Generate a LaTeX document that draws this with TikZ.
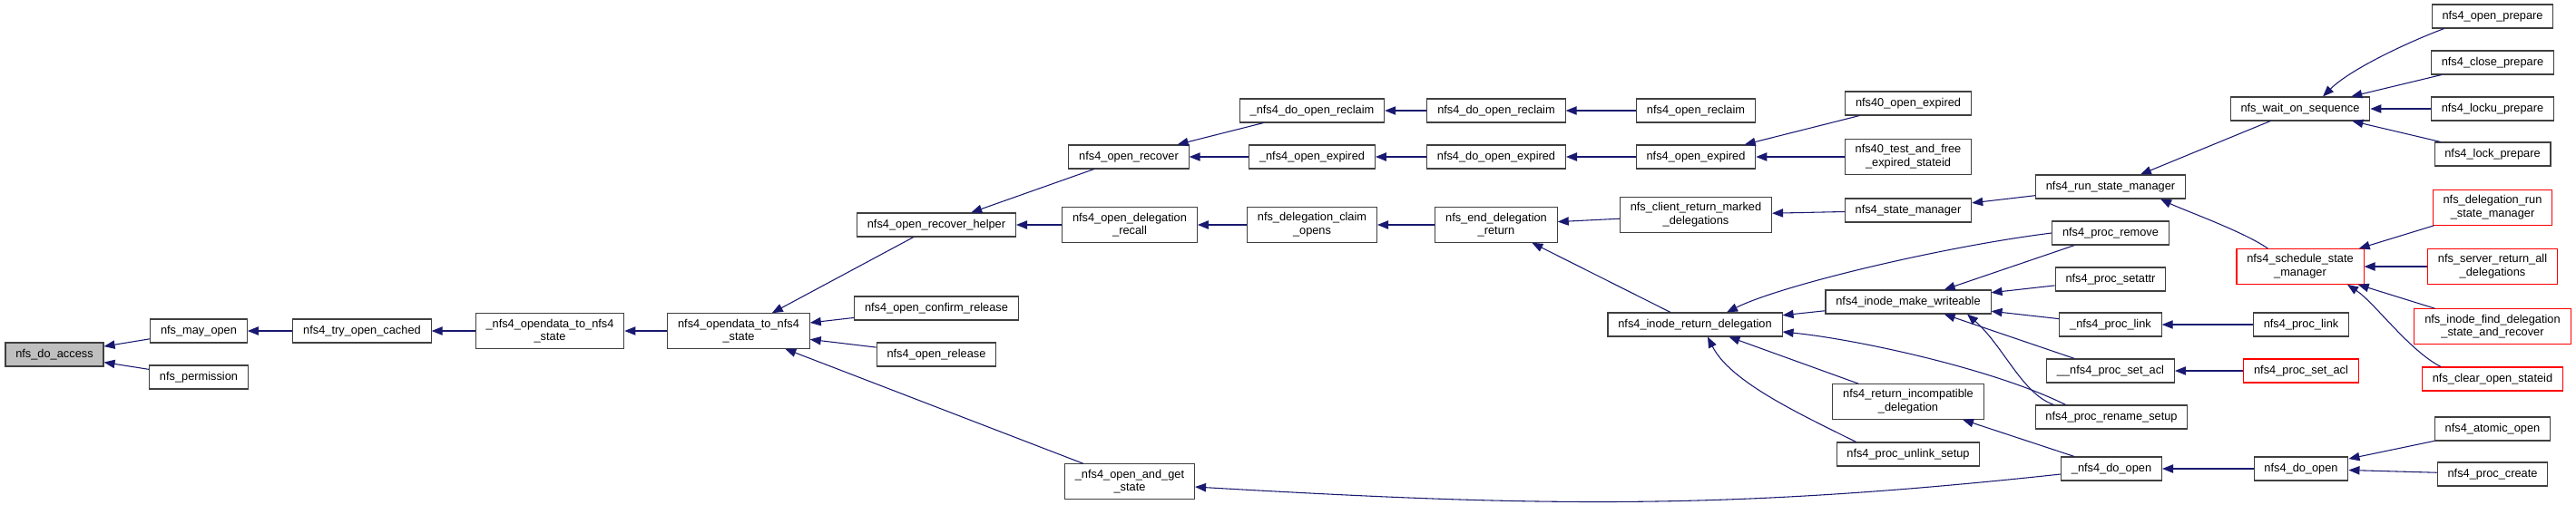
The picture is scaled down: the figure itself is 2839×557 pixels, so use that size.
\documentclass[tikz,border=0pt]{standalone}
\usepackage{fontspec}
\setmainfont{Liberation Sans}
\usepackage{xcolor}
\usepackage{tikz}
\usetikzlibrary{arrows.meta, calc}
\definecolor{midnight}{rgb}{0.098,0.098,0.439}
\definecolor{focusgrey}{rgb}{0.75,0.75,0.75}

\begin{document}
\begin{tikzpicture}[x=0.75pt, y=-0.75pt,
    fn/.style={rectangle, draw=black!75, fill=white, line width=0.8pt, inner xsep=8.5pt, inner ysep=4.5pt, minimum height=19.5pt, align=center, font=\fontsize{9.6}{11}\selectfont},
    focus/.style={fn, fill=focusgrey},
    redfn/.style={fn, draw=red},
    call/.style={draw=midnight, line width=0.8pt, -{Triangle[length=9pt, width=7pt]}}
]
    \useasboundingbox (0,0) rectangle (2839,557);

    % Nodes
    \node[focus] (access) at (60,391) {nfs\_do\_access};
    \node[fn] (mayopen) at (219,365) {nfs\_may\_open};
    \node[fn] (permission) at (219,416) {nfs\_permission};
    \node[fn] (trycached) at (399,365) {nfs4\_try\_open\_cached};
    \node[fn] (uodata) at (606,365) {\_nfs4\_opendata\_to\_nfs4\\\_state};
    \node[fn] (odata) at (814,365) {nfs4\_opendata\_to\_nfs4\\\_state};
    \node[fn] (rhelper) at (1032,248) {nfs4\_open\_recover\_helper};
    \node[fn] (confrel) at (1032,340) {nfs4\_open\_confirm\_release};
    \node[fn] (orelease) at (1032,391) {nfs4\_open\_release};
    \node[fn] (orecover) at (1244,173) {nfs4\_open\_recover};
    \node[fn] (delrecall) at (1245,248) {nfs4\_open\_delegation\\\_recall};
    \node[fn] (getstate) at (1245,531) {\_nfs4\_open\_and\_get\\\_state};
    \node[fn] (udoreclaim) at (1446,122) {\_nfs4\_do\_open\_reclaim};
    \node[fn] (uoexpired) at (1446,173) {\_nfs4\_open\_expired};
    \node[fn] (claimopens) at (1446,248) {nfs\_delegation\_claim\\\_opens};
    \node[fn] (doreclaim) at (1649,122) {nfs4\_do\_open\_reclaim};
    \node[fn] (doexpired) at (1649,173) {nfs4\_do\_open\_expired};
    \node[fn] (enddeleg) at (1649,248) {nfs\_end\_delegation\\\_return};
    \node[fn] (oreclaim) at (1869,122) {nfs4\_open\_reclaim};
    \node[fn] (oexpired) at (1869,173) {nfs4\_open\_expired};
    \node[fn] (retmarked) at (1869,237) {nfs\_client\_return\_marked\\\_delegations};
    \node[fn] (rdeleg) at (1868,358) {nfs4\_inode\_return\_delegation};
    \node[fn] (o40expired) at (2103,114) {nfs40\_open\_expired};
    \node[fn] (testfree) at (2103,173) {nfs40\_test\_and\_free\\\_expired\_stateid};
    \node[fn] (statemgr) at (2103,232) {nfs4\_state\_manager};
    \node[fn] (mkwrite) at (2103,333) {nfs4\_inode\_make\_writeable};
    \node[fn] (incompat) at (2103,443) {nfs4\_return\_incompatible\\\_delegation};
    \node[fn] (punlink) at (2103,501) {nfs4\_proc\_unlink\_setup};
    \node[fn] (runsm) at (2326,206) {nfs4\_run\_state\_manager};
    \node[fn] (premove) at (2326,257) {nfs4\_proc\_remove};
    \node[fn] (psetattr) at (2326,308) {nfs4\_proc\_setattr};
    \node[fn] (uplink) at (2326,358) {\_nfs4\_proc\_link};
    \node[fn] (usetacl) at (2326,409) {\_\_nfs4\_proc\_set\_acl};
    \node[fn] (prename) at (2327,460) {nfs4\_proc\_rename\_setup};
    \node[fn] (udoopen) at (2327,517) {\_nfs4\_do\_open};
    \node[fn] (waitseq) at (2535,120) {nfs\_wait\_on\_sequence};
    \node[redfn] (schedsm) at (2535,294) {nfs4\_schedule\_state\\\_manager};
    \node[fn] (plink) at (2536,358) {nfs4\_proc\_link};
    \node[redfn] (psetacl) at (2536,409) {nfs4\_proc\_set\_acl};
    \node[fn] (doopen) at (2536,517) {nfs4\_do\_open};
    \node[fn] (openprep) at (2747,18) {nfs4\_open\_prepare};
    \node[fn] (closeprep) at (2747,69) {nfs4\_close\_prepare};
    \node[fn] (lockuprep) at (2747,120) {nfs4\_locku\_prepare};
    \node[fn] (lockprep) at (2747,170) {nfs4\_lock\_prepare};
    \node[redfn] (delrunsm) at (2747,229) {nfs\_delegation\_run\\\_state\_manager};
    \node[redfn] (srvretall) at (2747,294) {nfs\_server\_return\_all\\\_delegations};
    \node[redfn] (findrecover) at (2747,360) {nfs\_inode\_find\_delegation\\\_state\_and\_recover};
    \node[redfn] (clearstateid) at (2747,418) {nfs\_clear\_open\_stateid};
    \node[fn] (atomicopen) at (2747,473) {nfs4\_atomic\_open};
    \node[fn] (pcreate) at (2747,523) {nfs4\_proc\_create};

    % Calls (arrow head at the callee)
    \draw[call] (mayopen) -- (access);
    \draw[call] (permission) -- (access);
    \draw[call] (trycached) -- (mayopen);
    \draw[call] (uodata) -- (trycached);
    \draw[call] (odata) -- (uodata);
    \draw[call] (rhelper) -- (odata);
    \draw[call] (confrel) -- (odata);
    \draw[call] (orelease) -- (odata);
    \draw[call] (getstate) -- (odata);
    \draw[call] (orecover) -- (rhelper);
    \draw[call] (delrecall) -- (rhelper);
    \draw[call] (udoreclaim) -- (orecover);
    \draw[call] (uoexpired) -- (orecover);
    \draw[call] (claimopens) -- (delrecall);
    \draw[call] (doreclaim) -- (udoreclaim);
    \draw[call] (doexpired) -- (uoexpired);
    \draw[call] (enddeleg) -- (claimopens);
    \draw[call] (oreclaim) -- (doreclaim);
    \draw[call] (oexpired) -- (doexpired);
    \draw[call] (retmarked) -- (enddeleg);
    \draw[call] (rdeleg) -- (enddeleg);
    \draw[call] (o40expired) -- (oexpired);
    \draw[call] (testfree) -- (oexpired);
    \draw[call] (statemgr) -- (retmarked);
    \draw[call] (mkwrite) -- (rdeleg);
    \draw[call] (incompat) -- (rdeleg);
    \draw[call] (runsm) -- (statemgr);
    \draw[call] (premove) -- (mkwrite);
    \draw[call] (psetattr) -- (mkwrite);
    \draw[call] (uplink) -- (mkwrite);
    \draw[call] (usetacl) -- (mkwrite);
    \draw[call] (udoopen) -- (incompat);
    \draw[call] (waitseq) -- (runsm);
    \draw[call] (plink) -- (uplink);
    \draw[call] (psetacl) -- (usetacl);
    \draw[call] (doopen) -- (udoopen);
    \draw[call] (closeprep) -- (waitseq);
    \draw[call] (lockuprep) -- (waitseq);
    \draw[call] (lockprep) -- (waitseq);
    \draw[call] (delrunsm) -- (schedsm);
    \draw[call] (srvretall) -- (schedsm);
    \draw[call] (findrecover) -- (schedsm);
    \draw[call] (atomicopen) -- (doopen);
    \draw[call] (pcreate) -- (doopen);

    % curved calls
    \draw[call] (premove.west) .. controls +(-120,15) and +(60,-30) .. ($(rdeleg.north)+(35,0)$);
    \draw[call] ($(punlink.north west)+(22,0)$) .. controls +(-60,-30) and +(25,50) .. ($(rdeleg.south)+(14,0)$);
    \draw[call] ($(prename.north west)+(34,0)$) .. controls +(-80,-40) and +(80,8) .. ($(rdeleg.east)+(0,8)$);
    \draw[call] ($(prename.north west)+(21,0)$) .. controls +(-35,-12) and +(40,35) .. ($(mkwrite.south)+(65,0)$);
    \draw[call] ($(schedsm.north west)+(35,0)$) .. controls +(-25,-18) and +(25,12) .. ($(runsm.south east)+(-28,0)$);
    \draw[call] ($(clearstateid.north west)+(21,0)$) .. controls +(-35,-18) and +(30,20) .. ($(schedsm.south)+(52,0)$);
    \draw[call] ($(openprep.south west)+(14,0)$) .. controls +(-40,15) and +(30,-30) .. ($(waitseq.north)+(25,0)$);
    \draw[call] ($(udoopen.west)+(0,6)$) .. controls +(-370,40) and +(380,22) .. ($(getstate.east)+(0,6)$);
\end{tikzpicture}
\end{document}
